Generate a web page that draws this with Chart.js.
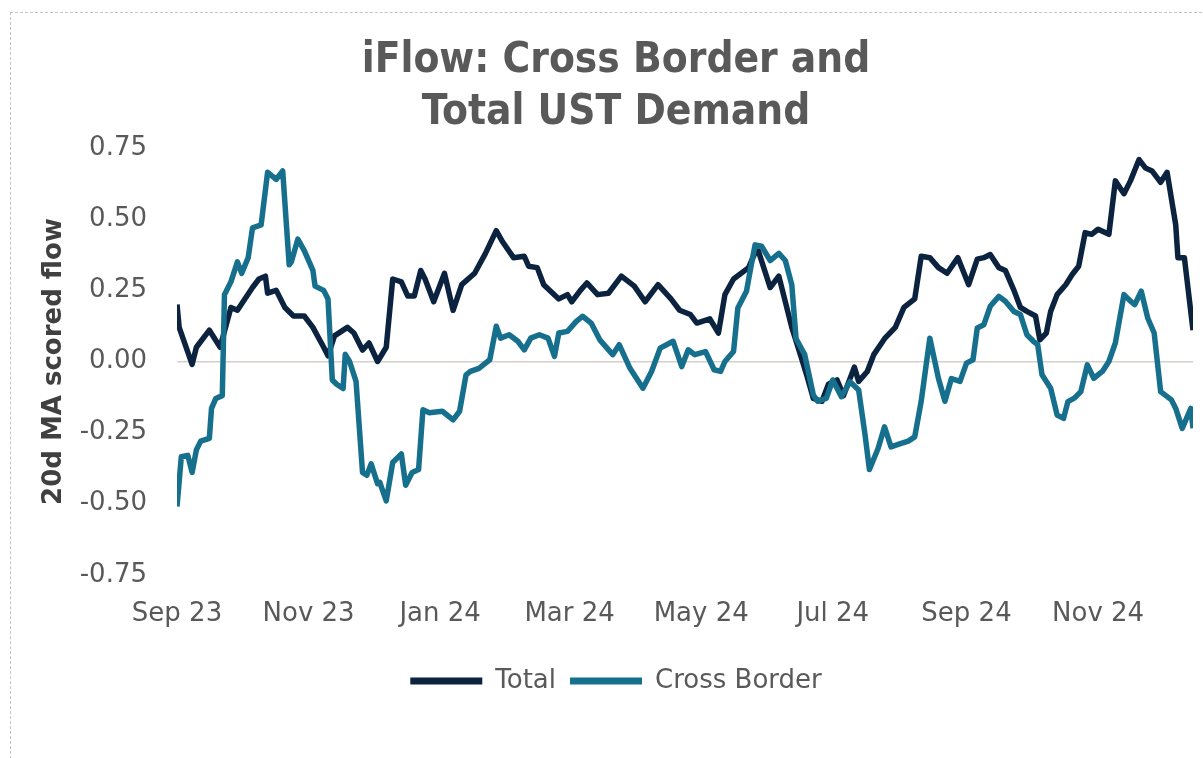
<!DOCTYPE html>
<html>
<head>
<meta charset="utf-8">
<title>iFlow: Cross Border and Total UST Demand</title>
<script src="https://cdn.jsdelivr.net/npm/chart.js@4.4.1/dist/chart.umd.min.js"></script>
<style>
html,body{margin:0;padding:0;background:#fff;overflow:hidden}
#frame{position:absolute;left:10px;top:12px;width:1210px;height:770px;border:1px dashed #c4c4c4}
#wrap{position:absolute;left:11px;top:14px;width:1192px;height:744px}
</style>
</head>
<body>
<div id="frame"></div>
<div id="wrap"><canvas id="data_chart"></canvas></div>
<script>
// 20d MA scored flow
const totalDates=['2023-09-01','2023-09-02','2023-09-08','2023-09-10','2023-09-16','2023-09-21','2023-09-26','2023-09-29','2023-10-06','2023-10-09',
  '2023-10-12','2023-10-13','2023-10-17','2023-10-21','2023-10-25','2023-10-30','2023-11-03','2023-11-08','2023-11-10','2023-11-13',
  '2023-11-19','2023-11-22','2023-11-26','2023-11-29','2023-12-03','2023-12-07','2023-12-10','2023-12-14','2023-12-17','2023-12-20',
  '2023-12-23','2023-12-25','2023-12-29','2024-01-03','2024-01-07','2024-01-11','2024-01-17','2024-01-22','2024-01-27','2024-01-30',
  '2024-02-04','2024-02-09','2024-02-11','2024-02-15','2024-02-18','2024-02-25','2024-02-29','2024-03-02','2024-03-06','2024-03-09',
  '2024-03-14','2024-03-19','2024-03-25','2024-03-31','2024-04-05','2024-04-11','2024-04-17','2024-04-21','2024-04-26','2024-04-29',
  '2024-05-05','2024-05-09','2024-05-12','2024-05-16','2024-05-23','2024-05-27','2024-06-02','2024-06-06','2024-06-12','2024-06-16',
  '2024-06-19','2024-06-22','2024-06-26','2024-06-29','2024-07-03','2024-07-06','2024-07-11','2024-07-13','2024-07-17','2024-07-20',
  '2024-07-25','2024-07-30','2024-08-03','2024-08-08','2024-08-11','2024-08-15','2024-08-19','2024-08-23','2024-08-28','2024-09-02',
  '2024-09-06','2024-09-09','2024-09-12','2024-09-16','2024-09-19','2024-09-23','2024-09-26','2024-09-29','2024-10-03','2024-10-05',
  '2024-10-08','2024-10-10','2024-10-13','2024-10-17','2024-10-20','2024-10-23','2024-10-26','2024-10-29','2024-11-01','2024-11-06',
  '2024-11-09','2024-11-13','2024-11-16','2024-11-20','2024-11-23','2024-11-26','2024-11-30','2024-12-03','2024-12-07','2024-12-08',
  '2024-12-11','2024-12-15']
const totalValues=[0.20,0.12,-0.01,0.05,0.11,0.05,0.19,0.18,0.26,0.29,
  0.30,0.24,0.25,0.19,0.16,0.16,0.12,0.05,0.02,0.09,
  0.12,0.10,0.04,0.065,0.00,0.05,0.29,0.28,0.23,0.23,
  0.32,0.29,0.21,0.31,0.18,0.27,0.31,0.38,0.46,0.42,
  0.365,0.37,0.335,0.33,0.27,0.22,0.235,0.21,0.25,0.276,
  0.235,0.24,0.30,0.265,0.21,0.27,0.22,0.18,0.165,0.135,
  0.15,0.10,0.235,0.29,0.33,0.40,0.26,0.30,0.12,0.024,
  -0.05,-0.13,-0.14,-0.08,-0.065,-0.12,-0.02,-0.07,-0.035,0.024,
  0.08,0.12,0.19,0.22,0.37,0.365,0.33,0.31,0.365,0.27,
  0.36,0.365,0.376,0.33,0.32,0.25,0.19,0.176,0.16,0.076,
  0.10,0.176,0.235,0.27,0.306,0.335,0.453,0.447,0.465,0.447,
  0.635,0.59,0.635,0.71,0.68,0.67,0.63,0.665,0.48,0.365,
  0.365,0.11]

const crossDates=['2023-09-01','2023-09-03','2023-09-06','2023-09-08','2023-09-10','2023-09-12','2023-09-16','2023-09-17','2023-09-19','2023-09-22',
  '2023-09-23','2023-09-26','2023-09-29','2023-10-01','2023-10-04','2023-10-06','2023-10-10','2023-10-13','2023-10-17','2023-10-20',
  '2023-10-23','2023-10-24','2023-10-27','2023-10-30','2023-11-03','2023-11-04','2023-11-08','2023-11-10','2023-11-12','2023-11-14',
  '2023-11-17','2023-11-18','2023-11-20','2023-11-23','2023-11-26','2023-11-28','2023-11-30','2023-12-03','2023-12-04','2023-12-07',
  '2023-12-10','2023-12-14','2023-12-16','2023-12-19','2023-12-22','2023-12-24','2023-12-27','2024-01-02','2024-01-07','2024-01-10',
  '2024-01-13','2024-01-15','2024-01-19','2024-01-21','2024-01-24','2024-01-27','2024-01-29','2024-02-02','2024-02-06','2024-02-09',
  '2024-02-12','2024-02-16','2024-02-20','2024-02-23','2024-02-25','2024-02-29','2024-03-04','2024-03-07','2024-03-11','2024-03-15',
  '2024-03-21','2024-03-24','2024-03-29','2024-04-04','2024-04-08','2024-04-12','2024-04-18','2024-04-22','2024-04-25','2024-04-28',
  '2024-05-03','2024-05-07','2024-05-10','2024-05-12','2024-05-16','2024-05-18','2024-05-22','2024-05-24','2024-05-26','2024-05-29',
  '2024-06-02','2024-06-06','2024-06-09','2024-06-12','2024-06-14','2024-06-18','2024-06-20','2024-06-22','2024-06-24','2024-06-28',
  '2024-07-01','2024-07-05','2024-07-09','2024-07-13','2024-07-16','2024-07-18','2024-07-22','2024-07-25','2024-07-28','2024-08-01',
  '2024-08-05','2024-08-08','2024-08-11','2024-08-15','2024-08-19','2024-08-22','2024-08-25','2024-08-29','2024-09-01','2024-09-04',
  '2024-09-06','2024-09-09','2024-09-12','2024-09-16','2024-09-19','2024-09-23','2024-09-26','2024-09-29','2024-10-02','2024-10-04',
  '2024-10-06','2024-10-10','2024-10-13','2024-10-16','2024-10-18','2024-10-21','2024-10-24','2024-10-27','2024-10-30','2024-11-03',
  '2024-11-06','2024-11-09','2024-11-13','2024-11-16','2024-11-18','2024-11-21','2024-11-24','2024-11-27','2024-11-30','2024-12-05',
  '2024-12-07','2024-12-10','2024-12-14','2024-12-15']
const crossValues=[-0.51,-0.335,-0.33,-0.39,-0.31,-0.28,-0.27,-0.165,-0.13,-0.12,
  0.235,0.28,0.35,0.31,0.365,0.47,0.48,0.665,0.64,0.67,
  0.34,0.35,0.43,0.39,0.32,0.265,0.25,0.22,-0.065,-0.08,
  -0.095,0.025,0.0,-0.07,-0.39,-0.40,-0.36,-0.43,-0.425,-0.49,
  -0.355,-0.325,-0.435,-0.39,-0.38,-0.17,-0.18,-0.175,-0.205,-0.175,
  -0.047,-0.035,-0.024,-0.012,0.006,0.124,0.082,0.094,0.071,0.041,
  0.082,0.094,0.082,0.018,0.10,0.106,0.14,0.159,0.135,0.076,
  0.024,0.059,-0.024,-0.094,-0.035,0.047,0.071,-0.018,0.041,0.024,
  0.035,-0.029,-0.035,0.0,0.035,0.188,0.247,0.33,0.41,0.405,
  0.355,0.38,0.355,0.27,0.08,0.024,-0.047,-0.118,-0.14,-0.13,
  -0.065,-0.124,-0.071,-0.10,-0.26,-0.38,-0.306,-0.23,-0.30,-0.29,
  -0.28,-0.265,-0.14,0.082,-0.06,-0.14,-0.06,-0.07,-0.006,0.006,
  0.118,0.129,0.194,0.229,0.212,0.176,0.165,0.094,0.071,0.059,
  -0.047,-0.094,-0.188,-0.20,-0.141,-0.129,-0.106,-0.012,-0.059,-0.035,
  0.0,0.065,0.235,0.212,0.20,0.247,0.153,0.10,-0.106,-0.135,
  -0.165,-0.235,-0.165,-0.235]

const tickDates=['2023-09-01','2023-11-01','2024-01-01','2024-03-01','2024-05-01','2024-07-01','2024-09-01','2024-11-01']
const tickLabels=['Sep 23','Nov 23','Jan 24','Mar 24','May 24','Jul 24','Sep 24','Nov 24']

const startDay=Date.UTC(2023,8,1)
function dayNum(s){
  const p=s.split('-')
  return (Date.UTC(+p[0],p[1]-1,+p[2])-startDay)/86400000
}
function points(dates,vals){
  const out=[]
  for(let i=0;i<dates.length;i++){
    out.push({x:dayNum(dates[i]),y:vals[i]})
  }
  return out
}

const grey='#595959'
const baseFont="'DejaVu Sans', sans-serif"

const data_chart=new Chart('data_chart',{
  type:'line',
  data:{
    datasets:[{
      label:'Total',
      data:points(totalDates,totalValues),
      borderColor:'#0c2340',
      backgroundColor:'#0c2340',
      order:1
    },{
      label:'Cross Border',
      data:points(crossDates,crossValues),
      borderColor:'#16708d',
      backgroundColor:'#16708d',
      order:0
    }]
  },
  options:{
    responsive:true,
    maintainAspectRatio:false,
    animation:false,
    elements:{
      line:{borderWidth:5.5,tension:0,borderJoinStyle:'round',fill:false},
      point:{radius:0}
    },
    layout:{padding:{left:28,right:10,top:0,bottom:54}},
    plugins:{
      tooltip:{enabled:false},
      title:{
        display:true,
        text:['iFlow: Cross Border and','Total UST Demand'],
        color:grey,
        font:{family:"'DejaVu Sans Condensed', 'Liberation Sans Narrow', sans-serif",size:42,weight:'bold',lineHeight:1.24},
        padding:{top:21,bottom:9}
      },
      legend:{
        position:'bottom',
        labels:{
          boxWidth:72,
          boxHeight:7,
          padding:14,
          color:grey,
          font:{family:baseFont,size:26},
          sort:(a,b)=>a.datasetIndex-b.datasetIndex,
          generateLabels:(chart)=>{
            const items=Chart.defaults.plugins.legend.labels.generateLabels(chart)
            items.forEach(it=>{it.lineWidth=0;it.fillStyle=it.strokeStyle})
            return items
          }
        }
      }
    },
    scales:{
      x:{
        type:'linear',
        min:0,
        max:dayNum(totalDates[totalDates.length-1]),
        grid:{display:false},
        border:{display:false},
        afterBuildTicks:(axis)=>{
          axis.ticks=tickDates.map(d=>({value:dayNum(d)}))
        },
        afterFit:(axis)=>{axis.height+=8},
        ticks:{
          autoSkip:false,
          maxRotation:0,
          padding:16,
          color:grey,
          font:{family:baseFont,size:26},
          callback:(v,i)=>tickLabels[i]
        }
      },
      y:{
        min:-0.75,
        max:0.75,
        border:{display:false},
        afterFit:(axis)=>{axis.width=138},
        grid:{
          drawTicks:false,
          lineWidth:1.5,
          color:(c)=>(c.tick&&Math.abs(c.tick.value)<1e-9)?'#d6d0ca':'rgba(0,0,0,0)'
        },
        ticks:{
          stepSize:0.25,
          padding:30,
          color:grey,
          font:{family:baseFont,size:26},
          callback:(v)=>v.toFixed(2)
        },
        title:{
          display:true,
          text:'20d MA scored flow',
          color:'#404040',
          font:{family:baseFont,size:26,weight:'bold'},
          padding:{top:0,bottom:10}
        }
      }
    }
  }
})
</script>
</body>
</html>
